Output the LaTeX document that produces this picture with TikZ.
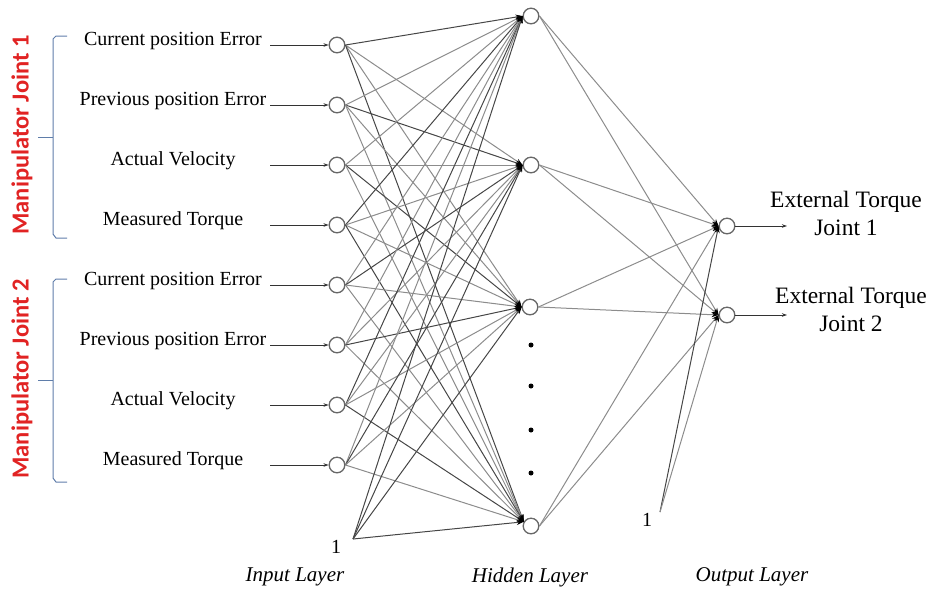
\documentclass[tikz,border=0pt]{standalone}
\usepackage{fontspec}
\setmainfont{Liberation Serif}
\newfontfamily\jointfont{Carlito}
\usetikzlibrary{arrows.meta}
\definecolor{jointred}{RGB}{225,35,35}
\definecolor{bracecol}{RGB}{95,125,170}
\definecolor{linkdark}{RGB}{70,70,70}
\definecolor{linklight}{RGB}{140,140,140}
\definecolor{nodegray}{RGB}{100,100,100}
\tikzset{
  neuron/.style={circle,draw=nodegray,line width=0.9pt,minimum size=16pt,inner sep=0pt,fill=white},
  dotn/.style={circle,fill=black,minimum size=5pt,inner sep=0pt},
  intext/.style={font=\fontsize{20}{22}\selectfont,inner sep=0pt},
  outtext/.style={font=\fontsize{23.5}{28}\selectfont,align=center,inner sep=0pt},
  layertext/.style={font=\itshape\fontsize{21}{24}\selectfont,inner sep=0pt},
  jointtext/.style={rotate=90,text=jointred,font=\jointfont\bfseries\fontsize{24.5}{28}\selectfont,inner sep=0pt},
  link/.style={line width=1pt,-{Stealth[length=7pt,width=5pt,color=black]}},
  feed/.style={line width=1pt,draw=black!80,-{Stealth[length=5pt,width=3.5pt]}},
  bracket/.style={draw=bracecol,line width=1pt},
}
\begin{document}
\begin{tikzpicture}[x=1pt,y=-1pt]
\useasboundingbox (0,0) rectangle (935,590);

% input nodes and labels
\foreach \i/\y/\t in {1/45/Current position Error,2/105/Previous position Error,3/165/Actual Velocity,4/225/Measured Torque,5/285/Current position Error,6/345/Previous position Error,7/405/Actual Velocity,8/465/Measured Torque}{
  \node[neuron] (i\i) at (337,\y) {};
  \node[intext] (t\i) at (173,\y-4) {\t};
  \coordinate (s\i) at (270,\y);
}

% hidden nodes
\node[neuron] (h1) at (531,16) {};
\node[neuron] (h2) at (531,165) {};
\node[neuron] (h3) at (530,307) {};
\node[neuron] (h4) at (531,526) {};
\foreach \k/\y in {1/345,2/386,3/430,4/473}{
  \node[dotn] (d\k) at (531,\y) {};
}

% output nodes
\node[neuron] (o1) at (727,226) {};
\node[neuron] (o2) at (727,315) {};

% bias
\coordinate (b1) at (353,539);
\node[font=\fontsize{20}{22}\selectfont,inner sep=0pt] (one1) at (336,547) {1};
\coordinate (b2) at (660,512);
\node[font=\fontsize{20}{22}\selectfont,inner sep=0pt] (one2) at (647,520) {1};

% input arrows
\foreach \i in {1,...,8}{
  \draw[feed] (s\i) -- (i\i.west);
}

% hidden entry points
\coordinate (hin1) at (h1.west);
\coordinate (hin2) at (h2.west);
\coordinate (hin3) at (h3.west);
\coordinate (hin4) at (h4.150);

% input -> hidden
\foreach \i in {1,...,8}{
  \foreach \h in {1,...,4}{
    \pgfmathtruncatemacro\m{mod(\i+2*\h,3)}
    \ifnum\m=0
      \draw[link,draw=linkdark] (i\i.east) -- (hin\h);
    \else
      \draw[link,draw=linklight] (i\i.east) -- (hin\h);
    \fi
  }
}
\foreach \h in {1,...,4}{
  \draw[link,draw=linkdark] (b1) -- (hin\h);
}

% hidden -> output
\foreach \h in {1,...,4}{
  \draw[link,draw=linklight] (h\h.east) -- (o1.west);
  \draw[link,draw=linklight] (h\h.east) -- (o2.west);
}
\draw[link,draw=linkdark] (b2) -- (o1.west);
\draw[link,draw=linklight] (b2) -- (o2.west);

% redraw nodes on top
\foreach \n in {i1,i2,i3,i4,i5,i6,i7,i8,h1,h2,h3,h4,o1,o2}{
  \draw[draw=nodegray,line width=0.9pt,fill=white] (\n.center) circle (7.6pt);
}

% outputs
\coordinate (e1) at (787,226);
\coordinate (e2) at (787,315);
\draw[feed] (o1.east) -- (e1);
\draw[feed] (o2.east) -- (e2);
\node[outtext] (ot1) at (846,213) {External Torque\\Joint 1};
\node[outtext] (ot2) at (851,309) {External Torque\\Joint 2};

% layer labels
\node[layertext] (l1) at (295,577) {Input Layer};
\node[layertext] (l2) at (530,577) {Hidden Layer};
\node[layertext] (l3) at (752,577) {Output Layer};

% brackets
\draw[bracket] (67,36) -- (56,36) -- (53,39) -- (53,234) -- (56,238) -- (67,238);
\draw[bracket] (53,137) -- (38,137);
\draw[bracket] (67,279) -- (56,279) -- (53,282) -- (53,478) -- (56,482) -- (67,482);
\draw[bracket] (53,380) -- (38,380);

% joint labels
\node[jointtext] (m1) at (22,135) {Manipulator Joint 1};
\node[jointtext] (m2) at (22,379) {Manipulator Joint 2};
\end{tikzpicture}
\end{document}
